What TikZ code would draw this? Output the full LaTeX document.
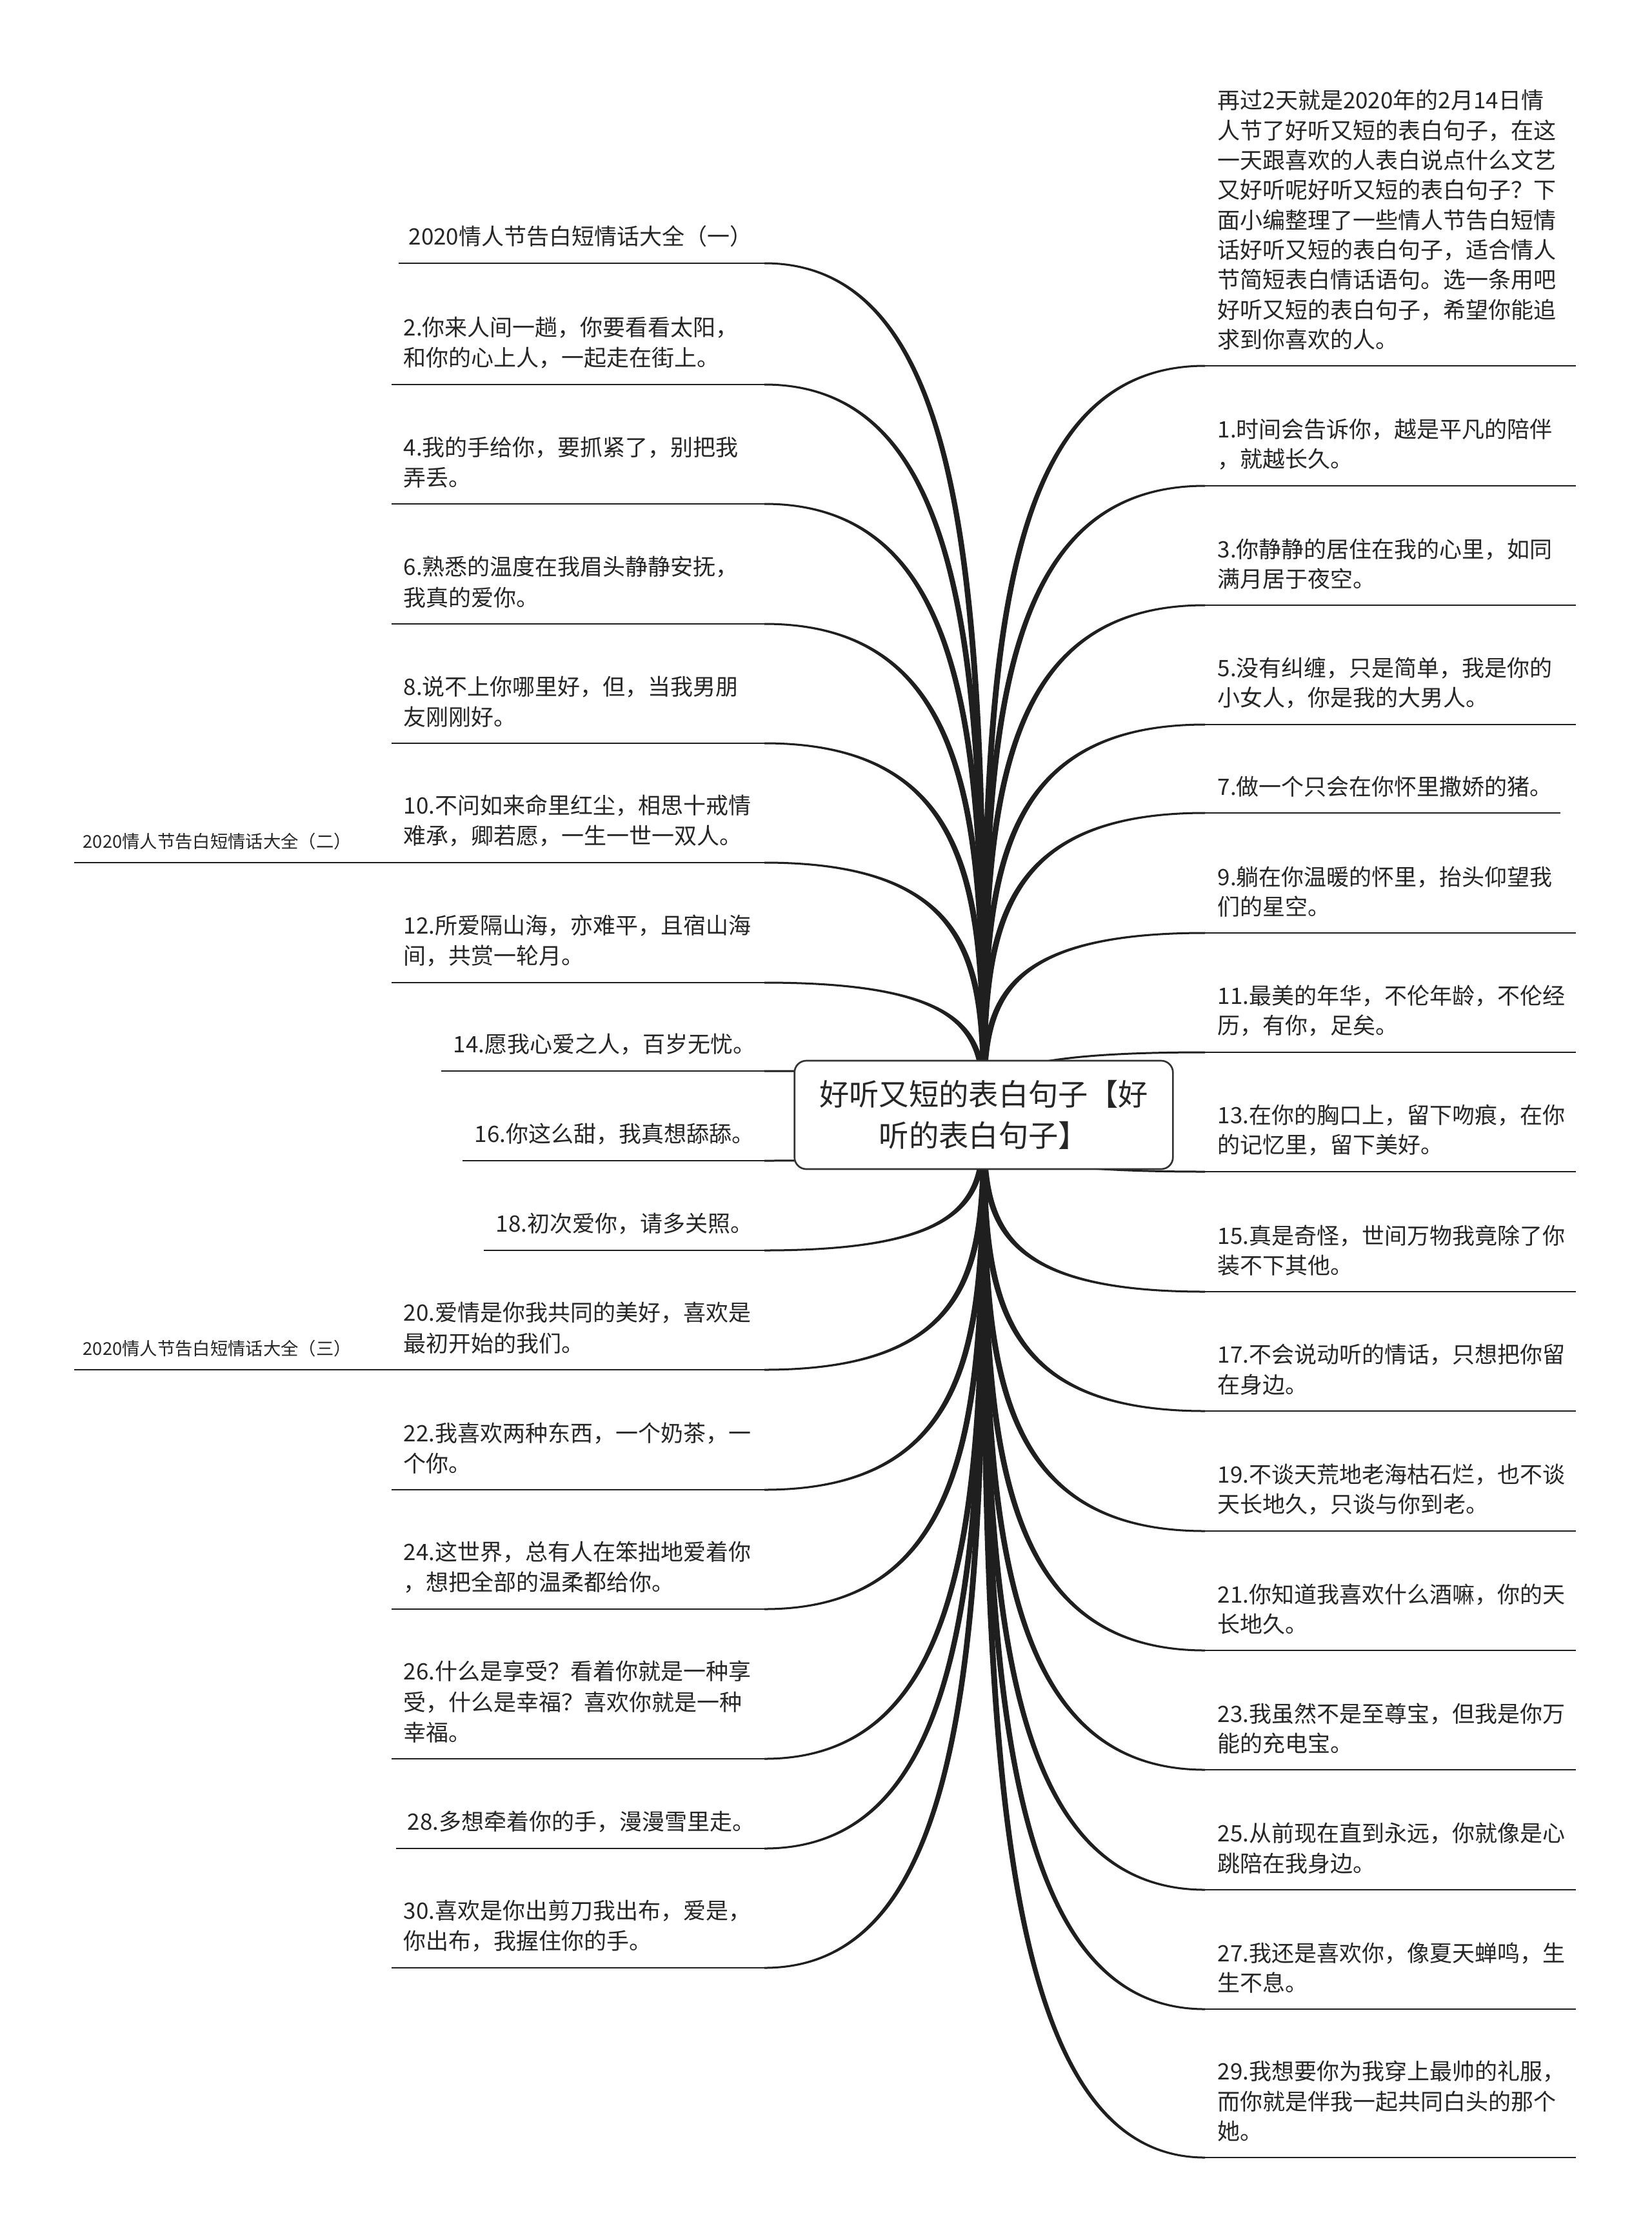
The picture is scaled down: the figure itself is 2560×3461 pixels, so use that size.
\documentclass[tikz,border=0pt]{standalone}
\usepackage{fontspec}
\setmainfont{Noto Sans CJK SC}
\usetikzlibrary{calc,backgrounds}
\newcommand\LFont{\fontsize{10.5pt}{14.25pt}\selectfont}
\newcommand\RFont{\fontsize{10.5pt}{13.9pt}\selectfont}
\newcommand\SFont{\fontsize{8.2pt}{10pt}\selectfont}
\newcommand\TFont{\fontsize{13.9pt}{19.2pt}\selectfont}
\tikzset{
 lt/.style={anchor=south west,inner sep=0pt,align=left,font=\LFont,text=black!85},
 rt/.style={anchor=south west,inner sep=0pt,align=left,font=\RFont,text=black!85},
 st/.style={anchor=south west,inner sep=0pt,font=\SFont,text=black!85},
 uline/.style={line width=0.8pt,draw=black!88},
 brc/.style={fill=black!88},
 rootbox/.style={draw=black!80,line width=0.8pt,fill=white,rounded corners=5.5pt,minimum width=176pt,minimum height=50.4pt,align=center,font=\TFont,text=black!85,inner sep=0pt}
}
\newcommand\LBranch[2]{%
 \begin{scope}[on background layer]
 \fill[brc] let \p1=(#1), \p2=(root.center), \n1={\y1+0.45*(\y2-\y1)} in
 (\x1,{\y1+(#2)*0.45pt}) .. controls ({\x2+1.4pt},{\y1+(#2)*0.45pt}) and ({\x2+1.4pt},{\n1*1pt}) .. ({\x2+1.4pt},\y2)
 -- ({\x2-1.4pt},\y2) .. controls ({\x2-1.4pt},{\n1*1pt}) and ({\x2-1.4pt},{\y1-(#2)*0.45pt}) .. (\x1,{\y1-(#2)*0.45pt}) -- cycle;
 \end{scope}}
\newcommand\RBranch[2]{%
 \begin{scope}[on background layer]
 \fill[brc] let \p1=(#1), \p2=(root.center), \n1={\y1+0.45*(\y2-\y1)} in
 (\x1,{\y1+(#2)*0.45pt}) .. controls ({\x2-1.4pt},{\y1+(#2)*0.45pt}) and ({\x2-1.4pt},{\n1*1pt}) .. ({\x2-1.4pt},\y2)
 -- ({\x2+1.4pt},\y2) .. controls ({\x2+1.4pt},{\n1*1pt}) and ({\x2+1.4pt},{\y1-(#2)*0.45pt}) .. (\x1,{\y1-(#2)*0.45pt}) -- cycle;
 \end{scope}}
\newcommand\LChild[6]{% name, underline y, line start x, text x, sign, text
 \coordinate (#1s) at (#3,#2);
 \coordinate (#1e) at (1185,#2);
 \node[lt] (#1) at (#4,#2-24) {#6};
 \draw[uline] (#1s) -- (#1e);
 \LBranch{#1e}{#5}}
\newcommand\RChild[5]{% name, underline y, line end x, sign, text
 \coordinate (#1s) at (1868,#2);
 \coordinate (#1e) at (#3,#2);
 \node[rt] (#1) at (1887,#2-24) {#5};
 \draw[uline] (#1s) -- (#1e);
 \RBranch{#1s}{#4}}
\begin{document}
\begin{tikzpicture}[x=0.3pt,y=-0.3pt]
\begin{scope}[on background layer]
\fill[white] (0,0) rectangle (2560,3461);
\end{scope}
\useasboundingbox (0,0) rectangle (2560,3461);
\node[rootbox] (root) at (1525,1728) {好听又短的表白句子【好\\听的表白句子】};

% left side
\LChild{T1}{408}{618}{633}{1}{2020情人节告白短情话大全（一）}
\LChild{L2}{596}{607}{625}{1}{2.你来人间一趟，你要看看太阳，\\和你的心上人，一起走在街上。}
\LChild{L4}{781}{607}{625}{1}{4.我的手给你，要抓紧了，别把我\\弄丢。}
\LChild{L6}{967}{607}{625}{1}{6.熟悉的温度在我眉头静静安抚，\\我真的爱你。}
\LChild{L8}{1152}{607}{625}{1}{8.说不上你哪里好，但，当我男朋\\友刚刚好。}
\LChild{L10}{1337}{607}{625}{1}{10.不问如来命里红尘，相思十戒情\\难承，卿若愿，一生一世一双人。}
\LChild{L12}{1523}{607}{625}{1}{12.所爱隔山海，亦难平，且宿山海\\间，共赏一轮月。}
\LChild{L14}{1660}{684}{702}{1}{14.愿我心爱之人，百岁无忧。}
\LChild{L16}{1799}{717}{735}{-1}{16.你这么甜，我真想舔舔。}
\LChild{L18}{1938}{750}{768}{-1}{18.初次爱你，请多关照。}
\LChild{L20}{2123}{607}{625}{-1}{20.爱情是你我共同的美好，喜欢是\\最初开始的我们。}
\LChild{L22}{2309}{607}{625}{-1}{22.我喜欢两种东西，一个奶茶，一\\个你。}
\LChild{L24}{2494}{607}{625}{-1}{24.这世界，总有人在笨拙地爱着你\\，想把全部的温柔都给你。}
\LChild{L26}{2726}{607}{625}{-1}{26.什么是享受？看着你就是一种享\\受，什么是幸福？喜欢你就是一种\\幸福。}
\LChild{L28}{2865}{614}{631}{-1}{28.多想牵着你的手，漫漫雪里走。}
\LChild{L30}{3050}{607}{625}{-1}{30.喜欢是你出剪刀我出布，爱是，\\你出布，我握住你的手。}

\node[st] (G2) at (128,1318) {2020情人节告白短情话大全（二）};
\coordinate (G2s) at (115,1337);
\draw[uline] (G2s) -- (L10s);
\node[st] (G3) at (128,2104) {2020情人节告白短情话大全（三）};
\coordinate (G3s) at (115,2123);
\draw[uline] (G3s) -- (L20s);

% right side
\RChild{R0}{567}{2443}{1}{再过2天就是2020年的2月14日情\\人节了好听又短的表白句子，在这\\一天跟喜欢的人表白说点什么文艺\\又好听呢好听又短的表白句子？下\\面小编整理了一些情人节告白短情\\话好听又短的表白句子，适合情人\\节简短表白情话语句。选一条用吧\\好听又短的表白句子，希望你能追\\求到你喜欢的人。}
\RChild{R1}{753}{2443}{1}{1.时间会告诉你，越是平凡的陪伴\\，就越长久。}
\RChild{R3}{938}{2443}{1}{3.你静静的居住在我的心里，如同\\满月居于夜空。}
\RChild{R5}{1123}{2443}{1}{5.没有纠缠，只是简单，我是你的\\小女人，你是我的大男人。}
\RChild{R7}{1260}{2419}{1}{7.做一个只会在你怀里撒娇的猪。}
\RChild{R9}{1446}{2443}{1}{9.躺在你温暖的怀里，抬头仰望我\\们的星空。}
\RChild{R11}{1631}{2443}{1}{11.最美的年华，不伦年龄，不伦经\\历，有你，足矣。}
\RChild{R13}{1816}{2443}{-1}{13.在你的胸口上，留下吻痕，在你\\的记忆里，留下美好。}
\RChild{R15}{2002}{2443}{-1}{15.真是奇怪，世间万物我竟除了你\\装不下其他。}
\RChild{R17}{2187}{2443}{-1}{17.不会说动听的情话，只想把你留\\在身边。}
\RChild{R19}{2373}{2443}{-1}{19.不谈天荒地老海枯石烂，也不谈\\天长地久，只谈与你到老。}
\RChild{R21}{2558}{2443}{-1}{21.你知道我喜欢什么酒嘛，你的天\\长地久。}
\RChild{R23}{2743}{2443}{-1}{23.我虽然不是至尊宝，但我是你万\\能的充电宝。}
\RChild{R25}{2929}{2443}{-1}{25.从前现在直到永远，你就像是心\\跳陪在我身边。}
\RChild{R27}{3114}{2443}{-1}{27.我还是喜欢你，像夏天蝉鸣，生\\生不息。}
\RChild{R29}{3344}{2443}{-1}{29.我想要你为我穿上最帅的礼服，\\而你就是伴我一起共同白头的那个\\她。}
\end{tikzpicture}
\end{document}
